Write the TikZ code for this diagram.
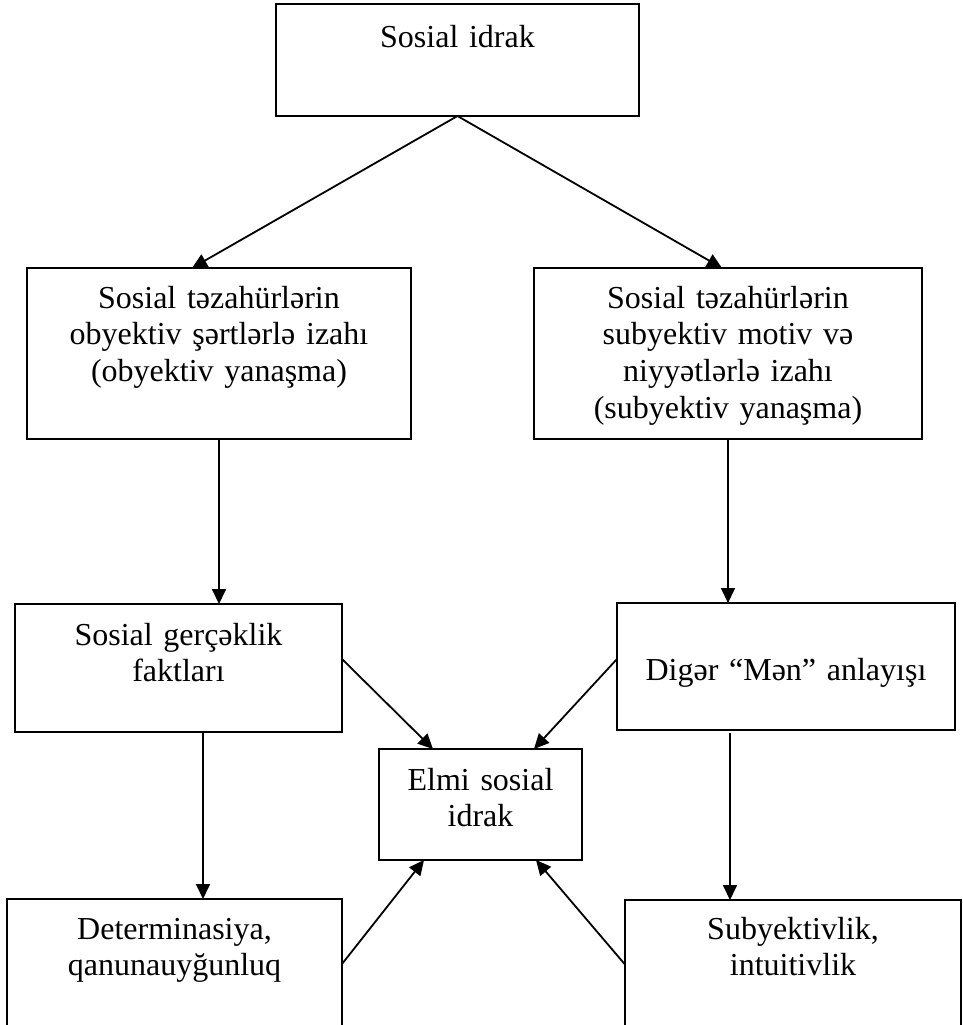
\documentclass[tikz,border=0pt]{standalone}
\usepackage{fontspec}
\setmainfont{Liberation Serif}
\usetikzlibrary{arrows.meta}

\begin{document}
\begin{tikzpicture}[
  x=0.5pt, y=-0.5pt,
  box/.style={rectangle, draw, line width=0.9pt, anchor=north west,
              align=center, inner sep=0pt, outer sep=0pt,
              font=\fontsize{16}{18.4}\selectfont},
  arr/.style={draw,-{Triangle[length=7.5pt,width=7pt]},line width=0.9pt}
]
\useasboundingbox (0,0) rectangle (963,1025);
\node[box, text width=181.5pt, text height=21.5pt, text depth=34.5pt] (si)   at (276,4)   {Sosial idrak};
\node[box, text width=192pt,   text height=20pt,   text depth=65.5pt] (obj)  at (27,268)  {Sosial təzahürlərin\\obyektiv şərtlərlə izahı\\(obyektiv yanaşma)};
\node[box, text width=194pt,   text height=20pt,   text depth=65.5pt] (subj) at (534,268) {Sosial təzahürlərin\\subyektiv motiv və\\niyyətlərlə izahı\\(subyektiv yanaşma)};
\node[box, text width=163.5pt, text height=20.5pt, text depth=43.5pt] (fakt) at (15,604)  {Sosial gerçəklik\\faktları};
\node[box, text width=169pt,   text height=38.5pt, text depth=25pt]   (men)  at (617,603) {Digər “Mən” anlayışı};
\node[box, text width=101.5pt, text height=20.5pt, text depth=35pt]   (elmi) at (379,749) {Elmi sosial\\idrak};
\node[box, text width=167.5pt, text height=20pt,   text depth=45pt]   (det)  at (7,899)   {Determinasiya,\\qanunauyğunluq};
\node[box, text width=168pt,   text height=19.5pt, text depth=45pt]   (intu) at (625,900) {Subyektivlik,\\intuitivlik};
\coordinate (faktb) at ([xshift=12.25pt]fakt.south);
\coordinate (menb)  at ([xshift=-28pt,yshift=-1.5pt]men.south);
\draw[arr] (si.south) -- ([xshift=-13.5pt]obj.north);
\draw[arr] (si.south) -- ([xshift=-3pt]subj.north);
\draw[arr] (obj.south) -- (obj.south |- fakt.north);
\draw[arr] (subj.south) -- (subj.south |- men.north);
\draw[arr] (faktb) -- (faktb |- det.north);
\draw[arr] (menb) -- (menb |- intu.north);
\draw[arr] ([yshift=4.5pt]fakt.east) -- ([xshift=-23.75pt]elmi.north);
\draw[arr] ([yshift=3.75pt]men.west) -- ([xshift=26.75pt]elmi.north);
\draw[arr] (det.east) -- ([xshift=-28.25pt]elmi.south);
\draw[arr] (intu.west) -- ([xshift=27.75pt]elmi.south);
\end{tikzpicture}
\end{document}
